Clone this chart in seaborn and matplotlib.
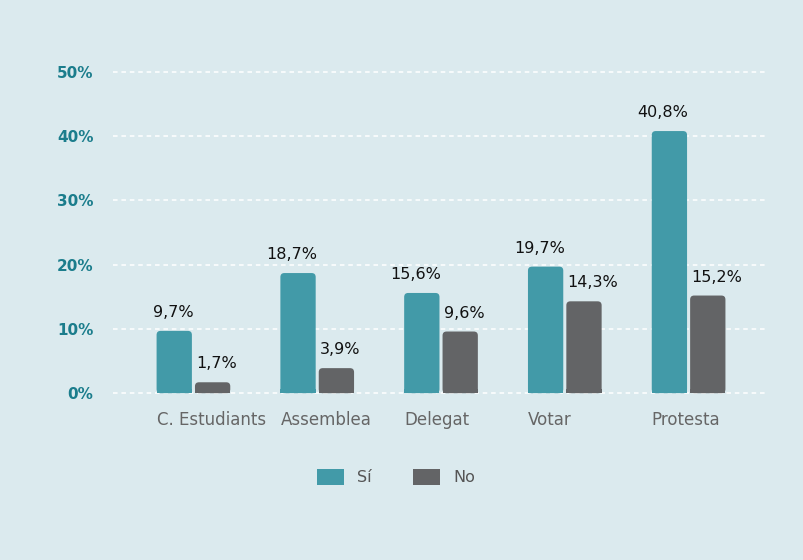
import seaborn as sns
import pandas as pd
import matplotlib.pyplot as plt
from matplotlib.patches import FancyBboxPatch, Patch, Rectangle

categories = ["C. Estudiants", "Assemblea", "Delegat", "Votar", "Protesta"]
si_vals = [9.7, 18.7, 15.6, 19.7, 40.8]
no_vals = [1.7, 3.9, 9.6, 14.3, 15.2]
series = ["Sí", "No"]
y_ticks = [0, 10, 20, 30, 40, 50]

bg = "#dbeaee"
teal = "#429aa8"
grey = "#636466"

df = pd.DataFrame({
    "cat": categories * 2,
    "val": si_vals + no_vals,
    "resp": [series[0]] * len(categories) + [series[1]] * len(categories),
})

sns.set_style("white")
plt.rcParams["font.family"] = ["DejaVu Sans"]

f = plt.figure(figsize=(8.04, 5.6), dpi=100, facecolor=bg)
ax = f.add_axes([0.1405, 0.2950, 0.8145, 0.5880])
ax.set_facecolor(bg)

sns.barplot(data=df, x="cat", y="val", hue="resp", palette=[teal, grey],
            width=0.62, gap=0.08, legend=False, ax=ax, saturation=1)

ax.set_xlim(-0.65, 4.64)
ax.set_ylim(-0.25, 51)
ax.set_yticks(y_ticks)
ax.set_yticklabels([f"{v}%" for v in y_ticks], color="#1b7d8c",
                   fontweight="bold", fontsize=11)
ax.tick_params(axis="y", length=0, pad=14)
ax.grid(axis="y", color="white", linestyle=(0, (3, 2.5)), linewidth=1.1)
ax.set_axisbelow(True)
for s in ax.spines.values():
    s.set_visible(False)
ax.set_xlabel("")
ax.set_ylabel("")

# rounded tops, square bottoms
p0 = ax.transData.transform((0, 0))
p1 = ax.transData.transform((1, 1))
px_x = p1[0] - p0[0]
px_y = p1[1] - p0[1]
r = 4 / px_x
asp = px_x / px_y
for cont in ax.containers:
    for rect in cont:
        x, w, h = rect.get_x(), rect.get_width(), rect.get_height()
        fc = rect.get_facecolor()
        ax.add_patch(FancyBboxPatch((x, 0), w, h,
                                    boxstyle=f"round,pad=0,rounding_size={r}",
                                    mutation_aspect=asp, fc=fc, ec="none",
                                    zorder=2))
        ax.add_patch(Rectangle((x, 0), w, min(h, r * asp), fc=fc, ec="none",
                               zorder=2))
        rect.set_visible(False)

# value labels
for rect, v in zip(ax.containers[0], si_vals):
    ax.annotate(f"{v:.1f}%".replace(".", ","),
                (rect.get_x() + rect.get_width(), rect.get_height()),
                xytext=(1, 10), textcoords="offset points",
                ha="right", va="baseline", fontsize=11.5, color="#111111")
for rect, v in zip(ax.containers[1], no_vals):
    ax.annotate(f"{v:.1f}%".replace(".", ","),
                (rect.get_x(), rect.get_height()),
                xytext=(1, 10), textcoords="offset points",
                ha="left", va="baseline", fontsize=11.5, color="#111111")

# category labels start at the left edge of the Sí bar
ax.set_xticks([rect.get_x() for rect in ax.containers[0]])
ax.set_xticklabels(categories, ha="left", color="#666666", fontsize=12)
ax.tick_params(axis="x", length=0, pad=12)

handles = [Patch(fc=teal, ec="none"), Patch(fc=grey, ec="none")]
f.legend(handles, series, loc="center", bbox_to_anchor=(0.4925, 0.148),
         ncol=2, frameon=False, handlelength=1.7,
         handleheight=1.2, handletextpad=0.8, columnspacing=2.6,
         labelcolor="#555555", prop={"size": 11.5})

plt.savefig("out.png", dpi=100, facecolor=bg)
